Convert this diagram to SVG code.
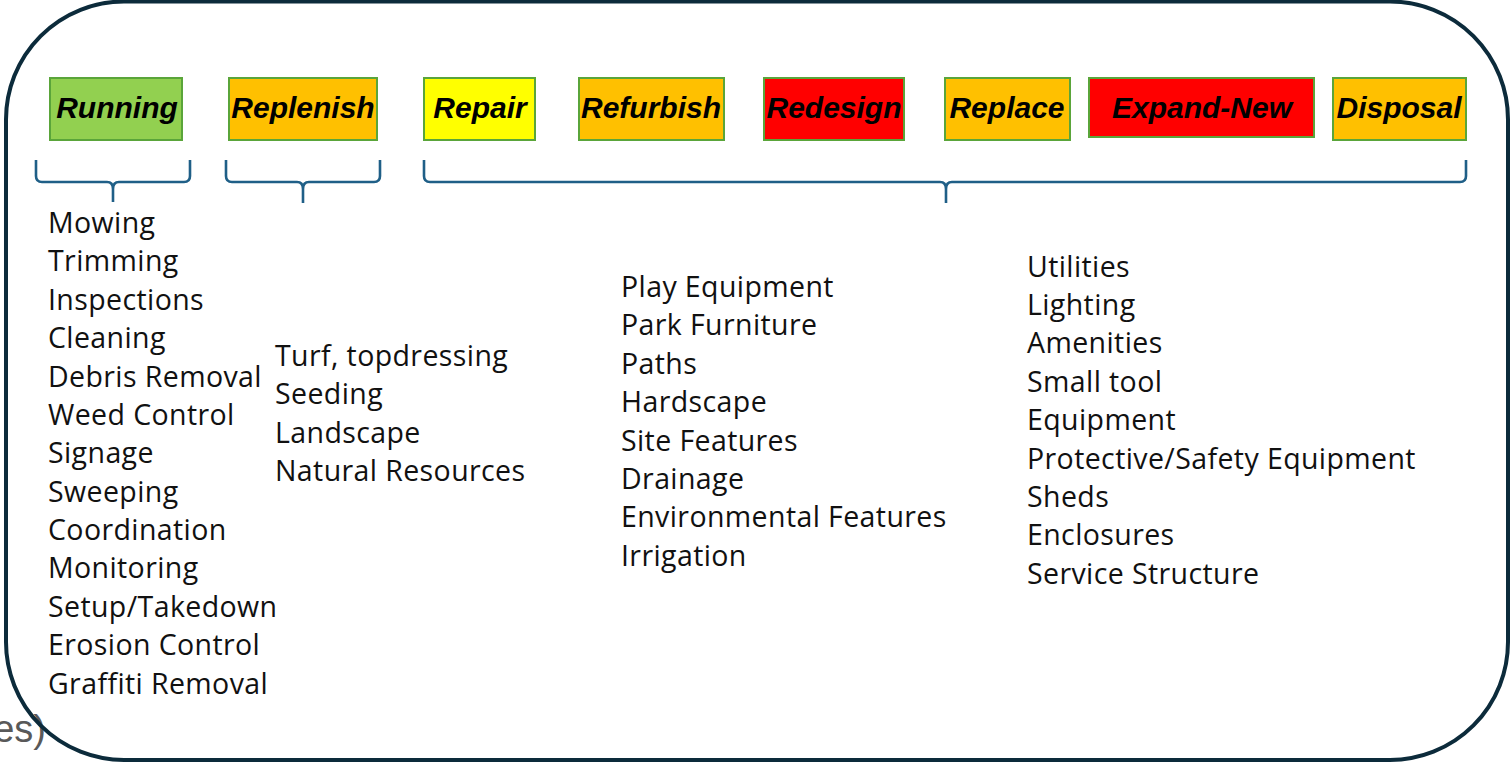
<svg xmlns="http://www.w3.org/2000/svg" width="1511" height="764" viewBox="0 0 1511 764">
  <style>
    .stage rect { stroke: #5aa53a; stroke-width: 2; }
    .stage text { font-family: "Liberation Sans", Arial, sans-serif; font-weight: bold; font-style: italic; font-size: 30px; fill: #000; text-anchor: middle; }
    .brace { fill: none; stroke: #1f5f87; stroke-width: 2.6; stroke-linejoin: round; }
    .list text { font-family: "Open Sans", "Liberation Sans", sans-serif; font-size: 28.5px; letter-spacing: 0.4px; fill: #111; }
    .frame { fill: none; stroke: #0c2b3b; stroke-width: 4; }
    .stray { font-family: "Liberation Sans", Arial, sans-serif; font-size: 38px; fill: #595959; text-anchor: end; }
  </style>

  <rect width="1511" height="764" fill="#fff"/>

  <!-- cut-off caption fragment at the lower left -->
  <text class="stray" x="46" y="742">es)</text>

  <!-- outer rounded frame -->
  <rect class="frame" x="6" y="1.5" width="1502" height="758.5" rx="118" ry="118"/>

  <!-- stage boxes -->
  <g id="running" class="stage">
    <rect x="50" y="78" width="132" height="62" fill="#92d050"/>
    <text x="117" y="118">Running</text>
  </g>
  <g id="replenish" class="stage">
    <rect x="229" y="78" width="148" height="62" fill="#ffc000"/>
    <text x="303" y="118">Replenish</text>
  </g>
  <g id="repair" class="stage">
    <rect x="424" y="78" width="111" height="62" fill="#ffff00"/>
    <text x="480" y="118">Repair</text>
  </g>
  <g id="refurbish" class="stage">
    <rect x="579" y="78" width="145" height="62" fill="#ffc000"/>
    <text x="651" y="118">Refurbish</text>
  </g>
  <g id="redesign" class="stage">
    <rect x="764" y="78" width="140" height="62" fill="#ff0000"/>
    <text x="834" y="118">Redesign</text>
  </g>
  <g id="replace" class="stage">
    <rect x="945" y="78" width="125" height="62" fill="#ffc000"/>
    <text x="1007" y="118">Replace</text>
  </g>
  <g id="expand-new" class="stage">
    <rect x="1089" y="78" width="225" height="59" fill="#ff0000"/>
    <text x="1202" y="118">Expand-New</text>
  </g>
  <g id="disposal" class="stage">
    <rect x="1333" y="78" width="133" height="62" fill="#ffc000"/>
    <text x="1399" y="118">Disposal</text>
  </g>

  <!-- braces grouping stages to their work lists -->
  <g id="connectors">
    <path class="brace" d="M36 160 V176 Q36 182 42 182 H107 Q113 182 113 189 V202 M113 189 Q113 182 119 182 H184 Q190 182 190 176 V160"/>
    <path class="brace" d="M226 160 V176 Q226 182 232 182 H297 Q303 182 303 189 V203 M303 189 Q303 182 309 182 H374 Q380 182 380 176 V160"/>
    <path class="brace" d="M424 160 V176 Q424 182 430 182 H940 Q946 182 946 189 V203 M946 189 Q946 182 952 182 H1460 Q1466 182 1466 176 V160"/>
  </g>

  <!-- work lists -->
  <g id="running-list" class="list">
    <text x="48" y="233">Mowing</text>
    <text x="48" y="271">Trimming</text>
    <text x="48" y="310">Inspections</text>
    <text x="48" y="348">Cleaning</text>
    <text x="48" y="387">Debris Removal</text>
    <text x="48" y="425">Weed Control</text>
    <text x="48" y="463">Signage</text>
    <text x="48" y="502">Sweeping</text>
    <text x="48" y="540">Coordination</text>
    <text x="48" y="578">Monitoring</text>
    <text x="48" y="617">Setup/Takedown</text>
    <text x="48" y="655">Erosion Control</text>
    <text x="48" y="694">Graffiti Removal</text>
  </g>
  <g id="replenish-list" class="list">
    <text x="275" y="366">Turf, topdressing</text>
    <text x="275" y="404">Seeding</text>
    <text x="275" y="443">Landscape</text>
    <text x="275" y="481">Natural Resources</text>
  </g>
  <g id="asset-list" class="list">
    <text x="621" y="297">Play Equipment</text>
    <text x="621" y="335">Park Furniture</text>
    <text x="621" y="374">Paths</text>
    <text x="621" y="412">Hardscape</text>
    <text x="621" y="451">Site Features</text>
    <text x="621" y="489">Drainage</text>
    <text x="621" y="527">Environmental Features</text>
    <text x="621" y="566">Irrigation</text>
  </g>
  <g id="facility-list" class="list">
    <text x="1027" y="277">Utilities</text>
    <text x="1027" y="315">Lighting</text>
    <text x="1027" y="353">Amenities</text>
    <text x="1027" y="392">Small tool</text>
    <text x="1027" y="430">Equipment</text>
    <text x="1027" y="469">Protective/Safety Equipment</text>
    <text x="1027" y="507">Sheds</text>
    <text x="1027" y="545">Enclosures</text>
    <text x="1027" y="584">Service Structure</text>
  </g>
</svg>
